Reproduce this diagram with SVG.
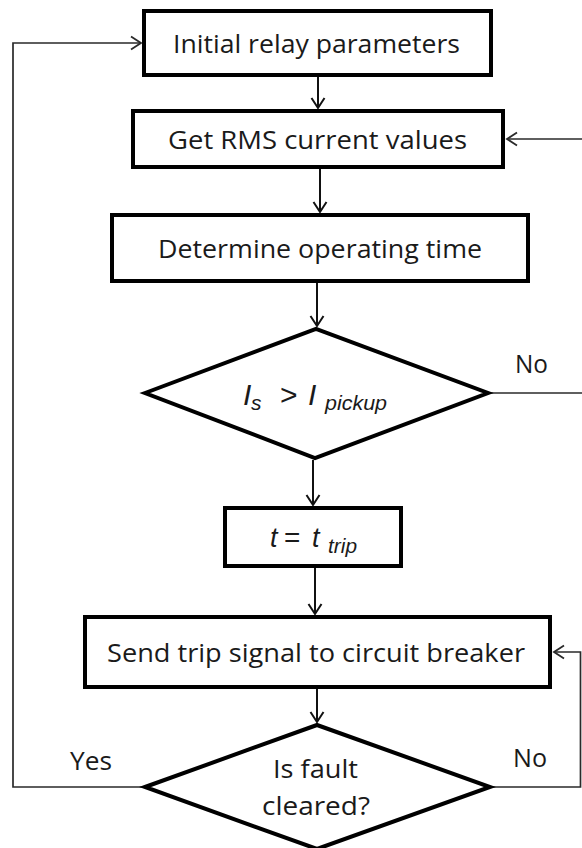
<svg xmlns="http://www.w3.org/2000/svg" width="582" height="848" viewBox="0 0 582 848">
<style>
  .box { fill: #ffffff; stroke: #000000; stroke-width: 4; }
  .lbl { font-family: "Open Sans", "Liberation Sans", Arial, sans-serif; font-size: 26px; fill: #1a1a1a; }
  .it { font-family: "Liberation Sans", Arial, sans-serif; font-style: italic; fill: #1a1a1a; }
  .op { font-family: "Liberation Sans", Arial, sans-serif; fill: #1a1a1a; }
  .conn { fill: none; stroke: #111111; stroke-width: 2; }
  .thin { fill: none; stroke: #2a2a2a; stroke-width: 1.7; }
</style>
<defs>
  <marker id="arr" markerUnits="userSpaceOnUse" markerWidth="16" markerHeight="16" refX="12" refY="8" orient="auto">
    <path d="M2,1.5 L12,8 L2,14.5" fill="none" stroke="#111111" stroke-width="2"/>
  </marker>
  <marker id="arrThin" markerUnits="userSpaceOnUse" markerWidth="16" markerHeight="16" refX="12" refY="8" orient="auto">
    <path d="M2,1.5 L12,8 L2,14.5" fill="none" stroke="#2a2a2a" stroke-width="1.8"/>
  </marker>
</defs>
<rect x="0" y="0" width="582" height="848" fill="#ffffff"/>

<g id="connectors">
  <line class="conn" x1="318" y1="77" x2="318" y2="108" marker-end="url(#arr)"/>
  <line class="conn" x1="320" y1="169" x2="320" y2="212" marker-end="url(#arr)"/>
  <line class="conn" x1="317" y1="283" x2="317" y2="326" marker-end="url(#arr)"/>
  <line class="conn" x1="313" y1="460" x2="313" y2="505" marker-end="url(#arr)"/>
  <line class="conn" x1="315" y1="568" x2="315" y2="614" marker-end="url(#arr)"/>
  <line class="conn" x1="317" y1="689" x2="317" y2="722" marker-end="url(#arr)"/>
  <line class="thin" x1="490" y1="393" x2="582" y2="393"/>
  <line class="thin" x1="582" y1="139" x2="507" y2="139" marker-end="url(#arrThin)"/>
  <polyline class="thin" points="492,787 580.5,787 580.5,652 554,652" marker-end="url(#arrThin)"/>
  <polyline class="thin" points="142,787 13,787 13,43 141,43" marker-end="url(#arrThin)"/>
</g>

<g id="node-init">
  <rect class="box" x="144" y="11" width="347" height="64"/>
  <text class="lbl" x="316.5" y="53" text-anchor="middle" textLength="287" lengthAdjust="spacingAndGlyphs">Initial relay parameters</text>
</g>

<g id="node-rms">
  <rect class="box" x="133" y="111" width="370" height="56"/>
  <text class="lbl" x="317.5" y="149" text-anchor="middle" textLength="299" lengthAdjust="spacingAndGlyphs">Get RMS current values</text>
</g>

<g id="node-optime">
  <rect class="box" x="112" y="215" width="416" height="66"/>
  <text class="lbl" x="320" y="258" text-anchor="middle" textLength="324" lengthAdjust="spacingAndGlyphs">Determine operating time</text>
</g>

<g id="node-pickup">
  <polygon class="box" points="145,393 316,329 488,393 315,458"/>
  <text class="it" x="243" y="405" font-size="30">I</text>
  <text class="it" x="251" y="410" font-size="21">s</text>
  <text class="op" x="280" y="405" font-size="30">&gt;</text>
  <text class="it" x="308" y="405" font-size="30">I</text>
  <text class="it" x="325" y="410" font-size="21" textLength="62" lengthAdjust="spacingAndGlyphs">pickup</text>
  <text class="lbl" x="515" y="373" textLength="33" lengthAdjust="spacingAndGlyphs">No</text>
</g>

<g id="node-ttrip">
  <rect class="box" x="225" y="508" width="176" height="58"/>
  <text class="it" x="270" y="547" font-size="27">t</text>
  <text class="op" x="284" y="547" font-size="28">=</text>
  <text class="it" x="312" y="547" font-size="27">t</text>
  <text class="it" x="328" y="553" font-size="21" textLength="29" lengthAdjust="spacingAndGlyphs">trip</text>
</g>

<g id="node-send">
  <rect class="box" x="85" y="617" width="465" height="70"/>
  <text class="lbl" x="316" y="662" text-anchor="middle" textLength="418" lengthAdjust="spacingAndGlyphs">Send trip signal to circuit breaker</text>
</g>

<g id="node-cleared">
  <polygon class="box" points="145,787 317,725 490,787 317,849"/>
  <text class="lbl" x="315.5" y="778" text-anchor="middle" textLength="85" lengthAdjust="spacingAndGlyphs">Is fault</text>
  <text class="lbl" x="316" y="815" text-anchor="middle" textLength="108" lengthAdjust="spacingAndGlyphs">cleared?</text>
  <text class="lbl" x="70" y="770" textLength="42" lengthAdjust="spacingAndGlyphs">Yes</text>
  <text class="lbl" x="513" y="767" textLength="34" lengthAdjust="spacingAndGlyphs">No</text>
</g>
</svg>
